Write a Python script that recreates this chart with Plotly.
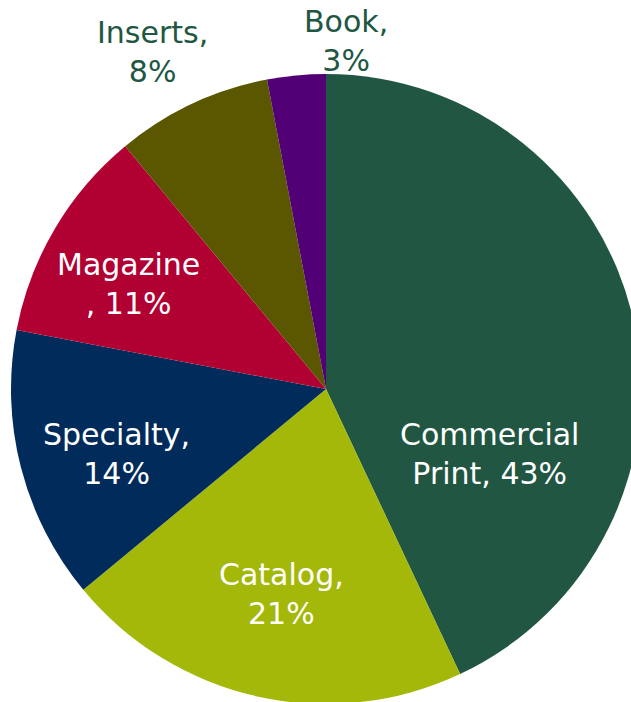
import plotly.graph_objects as go

# --- Data ---
segments = ["Commercial Print", "Catalog", "Specialty", "Magazine", "Inserts", "Book"]
shares = [43, 21, 14, 11, 8, 3]
colors = ["#215742", "#A3B808", "#002B5A", "#B10032", "#5A5700", "#520075"]

# where each label wraps onto a second line
line_breaks = ["Commercial<br>Print, {}%", "Catalog,<br>{}%", "Specialty,<br>{}%",
               "Magazine<br>, {}%", "Inserts,<br>{}%", "Book,<br>{}%"]

# label centres in pixels and font colour
label_xy = [(489, 454), (281, 594), (116, 454), (128, 284), (152, 52), (346, 41)]
label_color = ["white", "white", "white", "white", "#215742", "#215742"]

# the pie runs off the right and bottom edge of the window in the original
W, H = 652, 704
TOP = 74

fig = go.Figure(go.Pie(
    labels=segments,
    values=shares,
    sort=False,
    direction="clockwise",
    rotation=0,
    marker=dict(colors=colors, line=dict(width=0)),
    textinfo="none",
    hoverinfo="label+percent",
    showlegend=False,
    domain=dict(x=[0, 1], y=[0, (H - TOP) / H]),
))

for fmt, v, (x, y), c in zip(line_breaks, shares, label_xy, label_color):
    fig.add_annotation(
        x=x / W, y=1 - y / H, xref="paper", yref="paper",
        yanchor="middle", xanchor="center",
        text=fmt.format(v), showarrow=False,
        font=dict(family="DejaVu Sans, Verdana, sans-serif", size=30, color=c),
    )

fig.update_layout(
    width=W, height=H,
    margin=dict(l=0, r=0, t=0, b=0),
    paper_bgcolor="white",
    plot_bgcolor="white",
)

# drop the page margin and scrollbars so the figure sits at the window corner
fig.write_html("out.html",
               config={"displayModeBar": False},
               post_script="document.body.style.margin='0';"
                           "document.body.style.overflow='hidden';")
